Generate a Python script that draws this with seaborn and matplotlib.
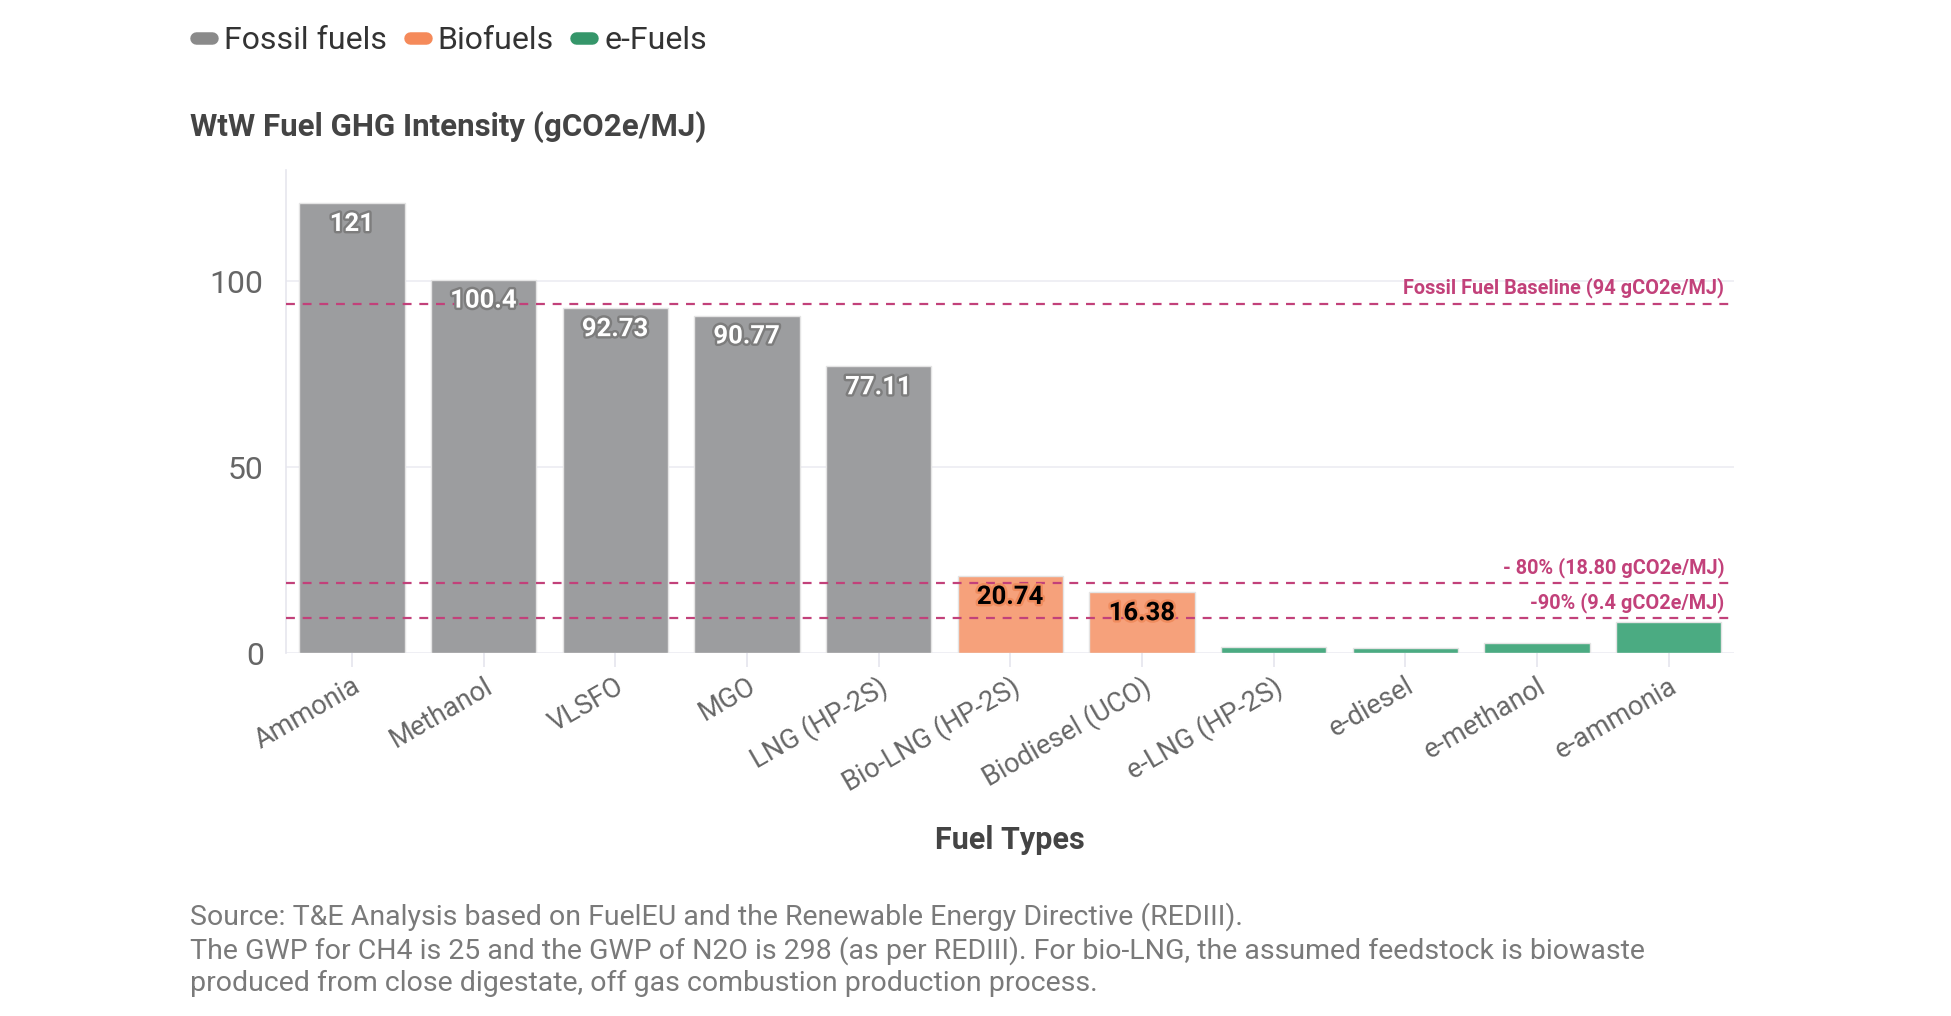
"""
WtW fuel GHG intensity by fuel type, with FuelEU reduction thresholds.
"""

import matplotlib
matplotlib.use("Agg")
import matplotlib.pyplot as plt
import matplotlib.patheffects as pe
from matplotlib.lines import Line2D
import pandas as pd
import seaborn as sns

fuels = ["Ammonia", "Methanol", "VLSFO", "MGO", "LNG (HP-2S)", "Bio-LNG (HP-2S)",
         "Biodiesel (UCO)", "e-LNG (HP-2S)", "e-diesel", "e-methanol", "e-ammonia"]
intensity = [121, 100.4, 92.73, 90.77, 77.11, 20.74, 16.38, 1.7, 1.3, 2.8, 8.3]
groups = ["Fossil fuels"] * 5 + ["Biofuels"] * 2 + ["e-Fuels"] * 4
labelled = ["121", "100.4", "92.73", "90.77", "77.11", "20.74", "16.38"]

thresholds = [94, 18.8, 9.4]
threshold_labels = ["Fossil Fuel Baseline (94 gCO2e/MJ)",
                    "- 80% (18.80 gCO2e/MJ)",
                    "-90% (9.4 gCO2e/MJ)"]

bar_colors = {"Fossil fuels": "#9c9d9f", "Biofuels": "#f6a17b", "e-Fuels": "#4bab82"}
legend_colors = {"Fossil fuels": "#8a8a8a", "Biofuels": "#f58a5a", "e-Fuels": "#35966a"}
line_color = "#c2417a"

sns.set_theme(style="white")
plt.rcParams["font.family"] = ["Roboto", "DejaVu Sans"]

df = pd.DataFrame({"fuel": fuels, "value": intensity, "group": groups})

fig = plt.figure(figsize=(19.51, 10.16), dpi=100)
ax = fig.add_axes([0.1466, 0.357, 0.7424, 0.476])

sns.barplot(data=df, x="fuel", y="value", hue="group", palette=bar_colors,
            dodge=False, width=0.8, saturation=1, edgecolor="#e4e4e4",
            linewidth=1, legend=False, ax=ax, zorder=2)

ax.set_ylim(0, 130)
ax.set_xlim(-0.5, len(fuels) - 0.5)
ax.set_yticks([0, 50, 100])
ax.yaxis.grid(True, color="#ececf2", linewidth=1.2, zorder=0)
for side in ["top", "right", "bottom"]:
    ax.spines[side].set_visible(False)
ax.spines["left"].set_color("#e6e6ee")
ax.spines["left"].set_linewidth(1.2)
ax.tick_params(axis="y", length=10, color="#e6e6ee", labelsize=23,
               labelcolor="#666666", pad=6)
ax.tick_params(axis="x", length=10, color="#e6e6ee", labelsize=19.5,
               labelcolor="#666666", bottom=True, pad=4)
plt.setp(ax.get_xticklabels(), rotation=30, ha="right", rotation_mode="anchor")
ax.set_xlabel("")
ax.set_ylabel("")

# threshold lines
for val, txt in zip(thresholds, threshold_labels):
    ax.axhline(val, color=line_color, linestyle=(0, (4, 3.5)), linewidth=1.6, zorder=3)
    ax.annotate(txt, xy=(0.993, val), xycoords=("axes fraction", "data"),
                xytext=(0, 4), textcoords="offset points", ha="right", va="bottom",
                fontsize=14.3, fontweight="bold", color=line_color, zorder=4)

# bar value labels
for i, txt in enumerate(labelled):
    if groups[i] == "Fossil fuels":
        col, stroke = "white", "#7d7d7d"
    else:
        col, stroke = "black", "#f08c5e"
    ax.annotate(txt, xy=(i, intensity[i]), xytext=(0, -15), textcoords="offset points",
                ha="center", va="center", fontsize=18.5, fontweight="bold", color=col,
                path_effects=[pe.withStroke(linewidth=3.5, foreground=stroke)], zorder=5)

# legend
handles = [Line2D([0], [0], color=legend_colors[g], lw=9, solid_capstyle="round")
           for g in ["Fossil fuels", "Biofuels", "e-Fuels"]]
fig.legend(handles, ["Fossil fuels", "Biofuels", "e-Fuels"], loc="center left",
           bbox_to_anchor=(0.1006, 0.9597), ncol=3, frameon=False, fontsize=23,
           handlelength=0.5, handletextpad=0.38, columnspacing=0.7,
           borderpad=0, borderaxespad=0, labelcolor="#333333")

fig.text(0.0974, 1 - 127 / 1016, "WtW Fuel GHG Intensity (gCO2e/MJ)", fontsize=22.5,
         fontweight="bold", color="#444444", ha="left", va="center")
fig.text(0.5177, 1 - 840 / 1016, "Fuel Types", fontsize=22, fontweight="bold",
         color="#444444", ha="center", va="center")

footnote = ("Source: T&E Analysis based on FuelEU and the Renewable Energy Directive (REDIII).\n"
            "The GWP for CH4 is 25 and the GWP of N2O is 298 (as per REDIII). For bio-LNG, the assumed feedstock is biowaste\n"
            "produced from close digestate, off gas combustion production process.")
fig.text(0.0974, 1 - 902 / 1016, footnote, fontsize=20.5, color="#7a7a7a",
         ha="left", va="top", linespacing=1.23)

fig.savefig("out.png", dpi=100)
print("saved out.png")
